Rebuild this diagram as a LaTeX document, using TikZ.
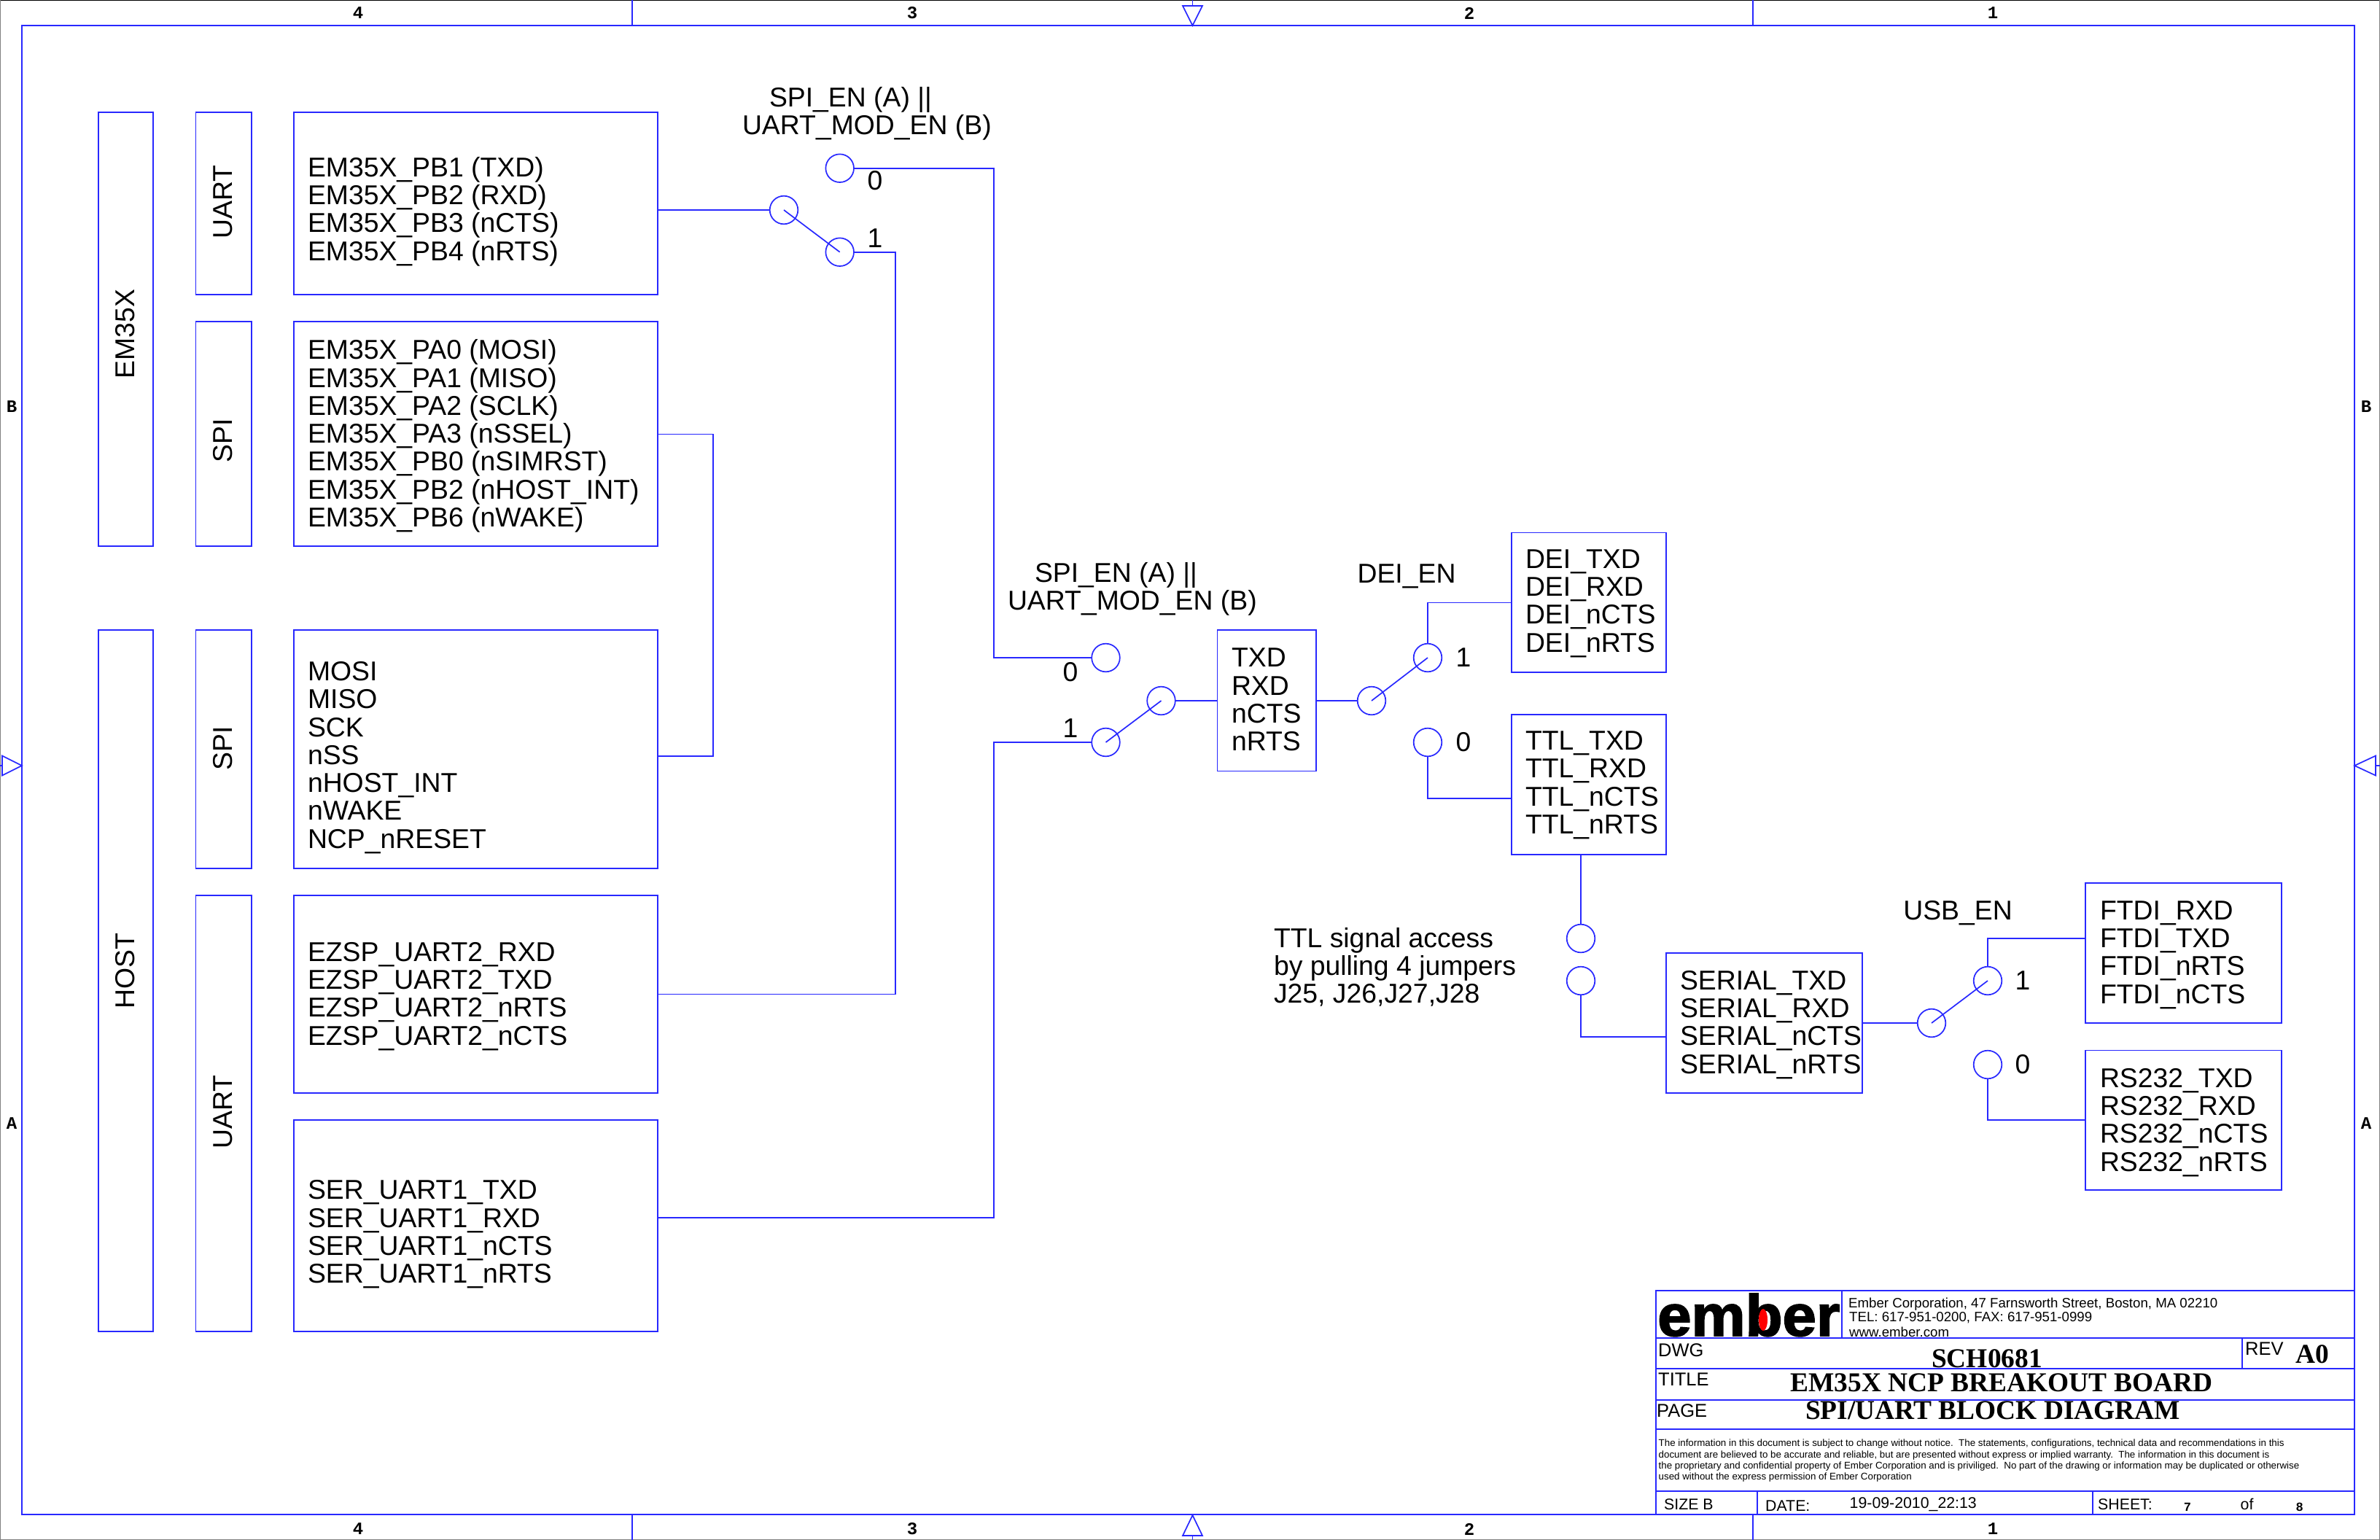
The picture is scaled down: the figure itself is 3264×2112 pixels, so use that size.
\documentclass[tikz,border=0pt]{standalone}
\usepackage{fontspec}
\usepackage{graphicx}
\setmainfont{Liberation Sans}
\newfontfamily\tmsb{Liberation Serif}[BoldFont={Liberation Serif Bold}]
\newfontfamily\monob{Liberation Mono}
\newfontfamily\logof{Liberation Sans}[BoldFont={Liberation Sans Bold},BoldFeatures={FakeBold=2.2}]
\definecolor{wire}{RGB}{40,40,255}
\usetikzlibrary{calc}
\tikzset{
  x=1pt,y=-1pt,
  lin/.style={draw=wire,line width=1.7pt},
  bx/.style={lin,rectangle,inner sep=0pt,outer sep=0pt},
  pin/.style={lin,circle,inner sep=0pt,outer sep=0pt,minimum size=38.6pt},
  big/.style={inner sep=0pt,outer sep=0pt,align=left,anchor=west,font=\fontsize{37.35}{38.3}\selectfont},
  num/.style={inner sep=0pt,font=\fontsize{37.35}{38.3}\selectfont},
  rot/.style={inner sep=0pt,rotate=90,font=\fontsize{37.35}{38.3}\selectfont},
  tick/.style={inner sep=0pt,font=\monob\bfseries\fontsize{24}{24}\selectfont},
  tri/.style={lin,fill=white,line join=miter},
  small/.style={inner sep=0pt,anchor=west,font=\fontsize{18.66}{19}\selectfont},
  lab/.style={inner sep=0pt,anchor=west,font=\fontsize{25.5}{25}\selectfont},
  foot/.style={inner sep=0pt,anchor=west,font=\fontsize{21.3}{21}\selectfont},
  legal/.style={inner sep=0pt,anchor=west,font=\fontsize{13.34}{13}\selectfont},
  ttl/.style={inner sep=0pt,font=\tmsb\bfseries\fontsize{37.4}{37}\selectfont}
}
\newcommand\bxn[5]{\pgfmathsetmacro\wdv{#4-#2}\pgfmathsetmacro\htv{#5-#3}%
  \node[bx,minimum width=\wdv pt,minimum height=\htv pt] (#1) at ({(#2+#4)/2},{(#3+#5)/2}) {};}
\begin{document}
\begin{tikzpicture}
\useasboundingbox (0,0) rectangle (3264,2112);
\fill[white] (0,0) rectangle (3264,2112);
% sheet frame
\draw[black,line width=1.5pt] (0,0) -- (3264,0);
\draw[gray,line width=1.5pt] (0,0) -- (0,2112) -- (3264,2112) -- (3264,0);
\draw[lin] (30,35) rectangle (3229,2077);
% zone ticks
\foreach \zx in {867,2404}{
  \draw[lin] (\zx,0) -- (\zx,35);
  \draw[lin] (\zx,2077) -- (\zx,2112);
}
\draw[tri] (1622,8) -- (1649,8) -- (1635.5,35) -- cycle;
\draw[lin] (1635.5,0) -- (1635.5,8);
\draw[tri] (1622,2106) -- (1649,2106) -- (1635.5,2078) -- cycle;
\draw[lin] (1635.5,2106) -- (1635.5,2112);
\draw[tri] (3,1036.5) -- (3,1063.5) -- (30,1050) -- cycle;
\draw[lin] (0,1050) -- (3,1050);
\draw[tri] (3258,1036.5) -- (3258,1063.5) -- (3229,1050) -- cycle;
\draw[lin] (3258,1050) -- (3264,1050);
\foreach \nm/\zx in {4/491,3/1251,2/2015,1/2733}{
  \node[tick] (ztop\nm) at (\zx,18) {\nm};
  \node[tick] (zbot\nm) at (\zx,2097) {\nm};
}
\foreach \nm/\zy in {B/558,A/1541}{
  \node[tick] (zl\nm) at (16,\zy) {\nm};
  \node[tick] (zr\nm) at (3245,\zy) {\nm};
}
% tall side blocks
\bxn{em}{135}{154}{210}{749}
\bxn{ua}{268.5}{154}{345}{404}
\bxn{sa}{268.5}{441}{345}{749}
\bxn{ho}{135}{864}{210}{1826}
\bxn{sb}{268.5}{864}{345}{1191}
\bxn{ub}{268.5}{1228}{345}{1826}
\node[rot] (emt) at (172,458) {EM35X};
\node[rot] (uat) at (306,277) {UART};
\node[rot] (sat) at (306,604) {SPI};
\node[rot] (hot) at (172,1332) {HOST};
\node[rot] (sbt) at (306,1026) {SPI};
\node[rot] (ubt) at (306,1525) {UART};
% signal blocks
\bxn{b1}{403}{154}{902}{404}
\bxn{b2}{403}{441}{902}{749}
\bxn{b3}{403}{864}{902}{1191}
\bxn{b4}{403}{1228}{902}{1499}
\bxn{b5}{403}{1536}{902}{1826}
\node[big] (b1t) at (422,290) {EM35X\_PB1 (TXD)\\EM35X\_PB2 (RXD)\\EM35X\_PB3 (nCTS)\\EM35X\_PB4 (nRTS)};
\node[big] (b2t) at (422,598) {EM35X\_PA0 (MOSI)\\EM35X\_PA1 (MISO)\\EM35X\_PA2 (SCLK)\\EM35X\_PA3 (nSSEL)\\EM35X\_PB0 (nSIMRST)\\EM35X\_PB2 (nHOST\_INT)\\EM35X\_PB6 (nWAKE)};
\node[big] (b3t) at (422,1039) {MOSI\\MISO\\SCK\\nSS\\nHOST\_INT\\nWAKE\\NCP\_nRESET};
\node[big] (b4t) at (422,1366.5) {EZSP\_UART2\_RXD\\EZSP\_UART2\_TXD\\EZSP\_UART2\_nRTS\\EZSP\_UART2\_nCTS};
\node[big] (b5t) at (422,1693) {SER\_UART1\_TXD\\SER\_UART1\_RXD\\SER\_UART1\_nCTS\\SER\_UART1\_nRTS};
\bxn{bt}{1669.5}{864}{1805}{1057.5}
\bxn{bd}{2073}{730.5}{2285}{922}
\bxn{bl}{2073}{980}{2285}{1172}
\bxn{bs}{2285}{1307}{2554}{1499}
\bxn{bf}{2860}{1211}{3129}{1403}
\bxn{br}{2860}{1440.5}{3129}{1632}
\node[big] (btt) at (1689,959.5) {TXD\\RXD\\nCTS\\nRTS};
\node[big] (bdt) at (2092,827.5) {DEI\_TXD\\DEI\_RXD\\DEI\_nCTS\\DEI\_nRTS};
\node[big] (blt) at (2092,1077) {TTL\_TXD\\TTL\_RXD\\TTL\_nCTS\\TTL\_nRTS};
\node[big] (bst) at (2304,1405.5) {SERIAL\_TXD\\SERIAL\_RXD\\SERIAL\_nCTS\\SERIAL\_nRTS};
\node[big] (bft) at (2880,1309.5) {FTDI\_RXD\\FTDI\_TXD\\FTDI\_nRTS\\FTDI\_nCTS};
\node[big] (brt) at (2880,1539.5) {RS232\_TXD\\RS232\_RXD\\RS232\_nCTS\\RS232\_nRTS};
% switches
\node[pin] (s1) at (1075,288) {};
\node[pin] (s1a) at (1151.7,230.7) {};
\node[pin] (s1b) at (1151.7,345.7) {};
\node[pin] (s2) at (1592.5,961) {};
\node[pin] (s2a) at (1516.5,902) {};
\node[pin] (s2b) at (1516.5,1018) {};
\node[pin] (s3) at (1881,961) {};
\node[pin] (s3a) at (1958,902) {};
\node[pin] (s3b) at (1958,1018) {};
\node[pin] (j1) at (2168,1287) {};
\node[pin] (j2) at (2168,1345) {};
\node[pin] (s4) at (2649,1403) {};
\node[pin] (s4a) at (2726,1345) {};
\node[pin] (s4b) at (2726,1460) {};
\draw[lin] (s1.center) -- (s1b.center);
\draw[lin] (s2.center) -- (s2b.center);
\draw[lin] (s3.center) -- (s3a.center);
\draw[lin] (s4.center) -- (s4a.center);
% wires
\coordinate (r1) at (1228,1363.5);
\coordinate (r2) at (1362.7,1670);
\draw[lin] (b1.east |- s1.west) -- (s1.west);
\draw[lin] (b2.east |- 0,595.6) -- (978,595.6) -- (978,1037) -- (b3.east |- 0,1037);
\draw[lin] (b4.east |- r1) -- (r1) -- (r1 |- s1b.east) -- (s1b.east);
\draw[lin] (b5.east |- r2) -- (r2) -- (r2 |- s2b.west) -- (s2b.west);
\draw[lin] (s1a.east) -- (r2 |- s1a.east) -- (r2 |- s2a.west) -- (s2a.west);
\draw[lin] (s2.east) -- (bt.west |- s2.east);
\draw[lin] (bt.east |- s3.west) -- (s3.west);
\draw[lin] (s3a.north) -- (s3a.north |- 0,826.5) -- (bd.west |- 0,826.5);
\draw[lin] (s3b.south) -- (s3b.south |- 0,1095) -- (bl.west |- 0,1095);
\draw[lin] (j1.north |- bl.south) -- (j1.north);
\draw[lin] (j2.south) -- (j2.south |- 0,1422) -- (bs.west |- 0,1422);
\draw[lin] (bs.east |- s4.west) -- (s4.west);
\draw[lin] (s4a.north) -- (s4a.north |- 0,1287) -- (bf.west |- 0,1287);
\draw[lin] (s4b.south) -- (s4b.south |- 0,1536) -- (br.west |- 0,1536);
% labels
\node[big] (l1) at (1018,156) {\hspace*{37pt}SPI\_EN (A) ||\\UART\_MOD\_EN (B)};
\node[big] (l2) at (1382,807.5) {\hspace*{37pt}SPI\_EN (A) ||\\UART\_MOD\_EN (B)};
\node[num] (l3) at (1929,790) {DEI\_EN};
\node[num] (l4) at (2685,1252) {USB\_EN};
\node[big] (l5) at (1747,1326.5) {TTL signal access\\by pulling 4 jumpers\\J25, J26,J27,J28};
\node[num] (n1) at (1200,248) {0};
\node[num] (n2) at (1200,327) {1};
\node[num] (n3) at (1468,922) {0};
\node[num] (n4) at (1468,999) {1};
\node[num] (n5) at (2007,902) {1};
\node[num] (n6) at (2007,1018) {0};
\node[num] (n7) at (2774,1345) {1};
\node[num] (n8) at (2774,1460) {0};
% title block
\draw[lin] (2271,1770) rectangle (3229,2077);
\draw[lin] (2271,1835) -- (3229,1835);
\draw[lin] (2271,1877) -- (3229,1877);
\draw[lin] (2271,1920) -- (3229,1920);
\draw[lin] (2271,1960) -- (3229,1960);
\draw[lin] (2271,2045) -- (3229,2045);
\draw[lin] (2526,1770) -- (2526,1835);
\draw[lin] (3075,1835) -- (3075,1877);
\draw[lin] (2410,2045) -- (2410,2077);
\draw[lin] (2870,2045) -- (2870,2077);
\node[inner sep=0pt,anchor=south west] (logo) at (2273,1833) {\resizebox{250pt}{58pt}{\logof\bfseries ember}};
\fill[red] (2418,1810) ellipse (6pt and 15pt);
\node[small] (a1) at (2535,1788.5) {Ember Corporation, 47 Farnsworth Street, Boston, MA 02210};
\node[small] (a2) at (2536,1807.5) {TEL: 617-951-0200, FAX: 617-951-0999};
\node[small] (a3) at (2536,1826.5) {www.ember.com};
\node[lab] (d1) at (2274,1851.5) {DWG};
\node[lab] (d2) at (2274,1891.5) {TITLE};
\node[lab] (d3) at (2272,1934.5) {PAGE};
\node[lab] (d4) at (3079,1849.5) {REV};
\node[ttl] (t1) at (2725,1863) {SCH0681};
\node[ttl] (t2) at (2745,1896) {EM35X NCP BREAKOUT BOARD};
\node[ttl] (t3) at (2733,1934) {SPI/UART BLOCK DIAGRAM};
\node[ttl] (t4) at (3171,1857) {A0};
\node[legal] (g1) at (2274.5,1980.5) {The information in this document is subject to change without notice.\ \ The statements, configurations, technical data and recommendations in this};
\node[legal] (g2) at (2274.5,1996.5) {document are believed to be accurate and reliable, but are presented without express or implied warranty.\ \ The information in this document is};
\node[legal] (g3) at (2274.5,2011.5) {the proprietary and confidential property of Ember Corporation and is priviliged.\ \ No part of the drawing or information may be duplicated or otherwise};
\node[legal] (g4) at (2274.5,2026.5) {used without the express permission of Ember Corporation};
\node[foot] (f1) at (2282,2063) {SIZE B};
\node[foot] (f2) at (2421,2065) {DATE:};
\node[foot] (f3) at (2536.5,2063) {19-09-2010\_22:13};
\node[foot] (f4) at (2877,2063) {SHEET:};
\node[foot] (f5) at (3072.5,2063) {of};
\node[tick,font=\monob\bfseries\fontsize{17}{17}\selectfont] (f6) at (3000,2067) {7};
\node[tick,font=\monob\bfseries\fontsize{17}{17}\selectfont] (f7) at (3153.6,2067) {8};
\end{tikzpicture}
\end{document}
